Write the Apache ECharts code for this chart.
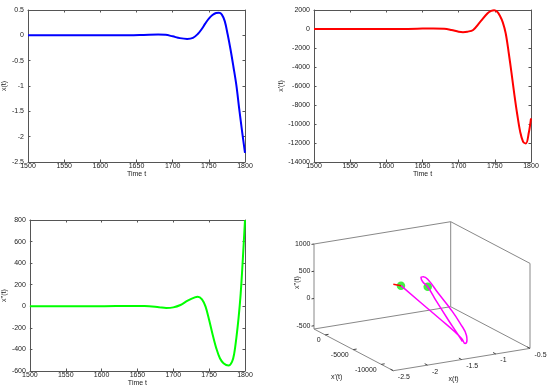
<!DOCTYPE html>
<html><head><meta charset="utf-8">
<script src="https://cdn.jsdelivr.net/npm/echarts@6/dist/echarts.min.js"></script>
<style>html,body{margin:0;padding:0;background:#fff}#c{width:550px;height:391px}</style>
</head><body><div id="c"></div>
<script>
// ---- time series data ----
const tPos = [1500,1550,1600,1640,1660,1680,1690,1700,1710,1720,1728,1735,1740,1745,1750,1755,1760,1764,1768,1772,1776,1780,1784,1788,1792,1796,1800];
const xPos = [0,0,0,0.002,0.008,0.015,0.01,-0.02,-0.055,-0.07,-0.05,0.03,0.12,0.23,0.33,0.40,0.44,0.445,0.41,0.28,0.02,-0.28,-0.62,-0.98,-1.45,-1.90,-2.32];

const tVel = [1500,1550,1600,1630,1650,1665,1680,1690,1700,1706,1712,1720,1730,1740,1745,1749,1753,1757,1761,1765,1769,1773,1777,1781,1785,1789,1793,1797,1800];
const xVel = [0,0,0,10,40,60,30,-100,-280,-330,-280,-100,770,1650,1900,1980,1850,1400,700,-450,-2400,-4600,-6900,-9000,-10800,-11850,-12050,-10900,-9400];

const tAcc = [1500,1550,1600,1640,1660,1680,1690,1700,1710,1720,1730,1734,1740,1745,1750,1755,1760,1765,1770,1777,1782,1785,1788,1791,1794,1797,1800];
const xAcc = [0,0,0,3,2,-8,-15,-10,12,52,83,89,65,-3,-127,-266,-390,-482,-528,-550,-513,-436,-290,-110,120,440,800];

// ---- 3D phase trajectory (x, x', x'') ----
const trajX = [-1.84,-1.74,-1.60,-1.46,-1.38,-1.30,-1.22,-1.18,-1.14,-1.10,-1.08,-1.10,-1.14,-1.18,-1.22,-1.26,-1.30,-1.34,-1.36,-1.36];
const trajV = [-5476,-7653,-9506,-10481,-10750,-10312,-9690,-9110,-7470,-5193,-2867,-1329,-923,-1002,-1792,-3171,-5264,-7819,-9845,-10595];
const trajA = [504,301,61,-153,-284,-406,-392,-349,-218,-77,67,232,279,277,251,242,88,-101,-263,-342];
const tailX = [-1.90,-1.84];
const tailV = [-4840,-5476];
const tailA = [507,504];
const dotX = [-1.84,-1.26];
const dotV = [-5476,-3171];
const dotA = [504,242];
const ticks3X = [-2.5,-2,-1.5,-1,-0.5];
const ticks3V = [0,-5000,-10000];
const ticks3A = [-500,0,500,1000];
const lim3X = [-2.5,-0.5];
const lim3V = [-12150,1990];
const lim3A = [-560,1000];

// ---- layout / view ----
const FONT = 'Liberation Sans, Arial, Helvetica, sans-serif';
const AX = '#555', TXT = '#222';
const view = {ox:314, oy:329, ex:[136.7,-22.3], ev:[79.3,41.7], ez:[0,-85]};
function proj(x,v,a){
  const fa=(x-lim3X[0])/(lim3X[1]-lim3X[0]);
  const fb=(lim3V[1]-v)/(lim3V[1]-lim3V[0]);
  const fc=(a-lim3A[0])/(lim3A[1]-lim3A[0]);
  return [view.ox+fa*view.ex[0]+fb*view.ev[0]+fc*view.ez[0],
          view.oy+fa*view.ex[1]+fb*view.ev[1]+fc*view.ez[1]];
}
const zip = (t,v)=>t.map((d,i)=>[d,v[i]]);
const plain = v=>String(v);

function xAx(gi,bottom){
  return {type:'value',gridIndex:gi,min:1500,max:1800,interval:50,position:bottom?'bottom':'top',
    name:bottom?'Time t':'',nameLocation:'middle',nameGap:9,
    nameTextStyle:{fontSize:7,color:TXT,fontFamily:FONT},
    axisLine:{show:true,onZero:false,lineStyle:{color:AX,width:1}},
    axisTick:{show:true,inside:true,length:2.5,lineStyle:{color:AX}},
    axisLabel:{show:bottom,fontSize:7,color:TXT,margin:1,fontFamily:FONT,formatter:plain},
    splitLine:{show:false}};
}
function yAx(gi,left,min,max,interval,name,gap){
  return {type:'value',gridIndex:gi,min:min,max:max,interval:interval,position:left?'left':'right',
    name:left?name:'',nameLocation:'middle',nameGap:gap,nameRotate:90,
    nameTextStyle:{fontSize:7,color:TXT,fontFamily:FONT},
    axisLine:{show:true,onZero:false,lineStyle:{color:AX,width:1}},
    axisTick:{show:true,inside:true,length:2.5,lineStyle:{color:AX}},
    axisLabel:{show:left,fontSize:7,color:TXT,margin:4,fontFamily:FONT,formatter:plain},
    splitLine:{show:false}};
}

// ---- 3D box edges and ticks as segments ----
const [x0,x1]=lim3X, [v0,v1]=lim3V, [a0,a1]=lim3A;
const edges=[
  [[x0,v1,a0],[x0,v0,a0]],[[x0,v0,a0],[x1,v0,a0]],[[x1,v0,a0],[x1,v1,a0]],[[x1,v1,a0],[x0,v1,a0]],
  [[x0,v1,a0],[x0,v1,a1]],[[x1,v1,a0],[x1,v1,a1]],[[x1,v0,a0],[x1,v0,a1]],
  [[x0,v1,a1],[x1,v1,a1]],[[x1,v1,a1],[x1,v0,a1]]
];
const segs=[];
edges.forEach(e=>{const p=proj(...e[0]),q=proj(...e[1]);segs.push([p[0],p[1],q[0],q[1],0]);});
ticks3X.forEach(t=>{const p=proj(t,v0,a0),q=proj(t,v0+0.035*(v1-v0),a0);segs.push([p[0],p[1],q[0],q[1],1]);});
ticks3V.forEach(t=>{const p=proj(x0,t,a0),q=proj(x0+0.025*(x1-x0),t,a0);segs.push([p[0],p[1],q[0],q[1],1]);});
ticks3A.forEach(t=>{const p=proj(x0,v1,t),q=proj(x0-0.018*(x1-x0),v1,t);segs.push([p[0],p[1],q[0],q[1],1]);});

const graphics=[];
const txt=(x,y,s,align,va,rot)=>graphics.push({type:'text',x:x,y:y,rotation:rot||0,
  style:{text:s,fontSize:7,fill:TXT,fontFamily:FONT,textAlign:align,textVerticalAlign:va},z:10});
ticks3X.forEach(t=>{const p=proj(t,v0,a0);txt(p[0]+4.5,p[1]+6.5,String(t),'left','middle');});
ticks3V.forEach(t=>{const p=proj(x0,t,a0);txt(p[0]-4.5,p[1]+5.5,String(t),'right','middle');});
ticks3A.forEach(t=>{const p=proj(x0,v1,t);txt(p[0]-3.5,p[1],String(t),'right','middle');});
{const p=proj((x0+x1)/2,v0,a0);txt(p[0]-8,p[1]+20,'x(t)','center','middle');}
{const p=proj(x0,(v0+v1)/2,a0);txt(p[0]-17,p[1]+27,"x'(t)",'center','middle');}
{const p=proj(x0,v1,(a0+a1)/2);txt(p[0]-17,p[1]-4,"x''(t)",'center','middle',Math.PI/2);}

const traj=trajX.map((x,i)=>proj(x,trajV[i],trajA[i]));
const tail=tailX.map((x,i)=>proj(x,tailV[i],tailA[i]));
const dots=dotX.map((x,i)=>proj(x,dotV[i],dotA[i]));

const tsLine=(xi,data,color)=>({type:'line',xAxisIndex:xi,yAxisIndex:xi,data:data,showSymbol:false,
  smooth:0.35,lineStyle:{color:color,width:2},itemStyle:{color:color}});

const chart=echarts.init(document.getElementById('c'),null,{renderer:'canvas'});
chart.setOption({
  animation:false,
  backgroundColor:'#fff',
  grid:[
    {left:28,top:10,width:217,height:152},
    {left:314,top:10,width:217,height:152},
    {left:28,top:220,width:217,height:151},
    {left:0,top:0,width:550,height:391}
  ],
  xAxis:[xAx(0,true),xAx(0,false),xAx(1,true),xAx(1,false),xAx(2,true),xAx(2,false),
    {type:'value',gridIndex:3,min:0,max:550,show:false}],
  yAxis:[yAx(0,true,-2.5,0.5,0.5,'x(t)',17),yAx(0,false,-2.5,0.5,0.5,''),
    yAx(1,true,-14000,2000,2000,"x'(t)",24),yAx(1,false,-14000,2000,2000,''),
    yAx(2,true,-600,800,200,"x''(t)",15),yAx(2,false,-600,800,200,''),
    {type:'value',gridIndex:3,min:0,max:391,inverse:true,show:false}],
  graphic:graphics,
  series:[
    tsLine(0,zip(tPos,xPos),'#0000ff'),
    tsLine(2,zip(tVel,xVel),'#ff0000'),
    tsLine(4,zip(tAcc,xAcc),'#00ff00'),
    {type:'custom',xAxisIndex:6,yAxisIndex:6,data:segs,silent:true,
      renderItem:(params,api)=>{
        const p=api.coord([api.value(0),api.value(1)]),q=api.coord([api.value(2),api.value(3)]);
        return {type:'line',shape:{x1:p[0],y1:p[1],x2:q[0],y2:q[1]},
          style:{stroke:api.value(4)?'#444':'#888',lineWidth:1}};
      }},
    {type:'scatter',xAxisIndex:6,yAxisIndex:6,data:dots,symbolSize:8.5,
      itemStyle:{color:'#11ee11'},z:2},
    {type:'line',xAxisIndex:6,yAxisIndex:6,data:traj,showSymbol:false,smooth:0.5,
      lineStyle:{color:'#ff00ff',width:1.5},z:3},
    {type:'line',xAxisIndex:6,yAxisIndex:6,data:tail,showSymbol:false,
      lineStyle:{color:'#ff0000',width:1.5},z:3}
  ]
});
</script></body></html>
